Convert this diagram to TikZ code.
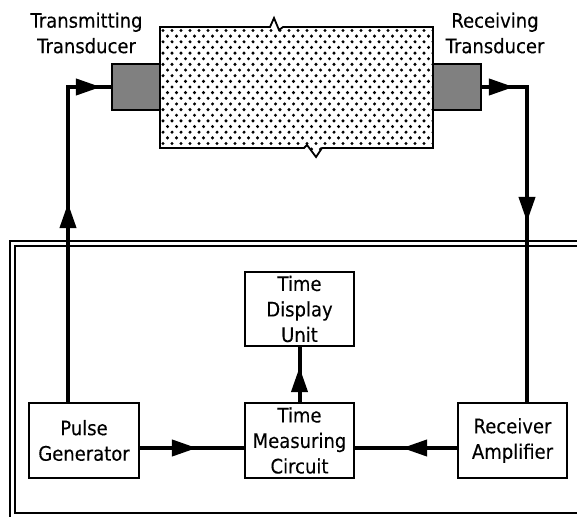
\documentclass[tikz,border=0pt]{standalone}
\usepackage{fontspec}
\setmainfont{DejaVu Sans}[FakeStretch=0.9,FakeBold=0.2]
\usetikzlibrary{arrows.meta,decorations.markings,calc}
\tikzset{
  box/.style={draw,line width=1.8pt,fill=white,inner sep=0pt,align=center,
    font=\fontsize{20}{25.5}\selectfont},
  lbl/.style={inner sep=0pt,align=center,font=\fontsize{20}{25.5}\selectfont},
  xducer/.style={draw,line width=1.8pt,fill={rgb,255:red,128;green,128;blue,128},
    minimum width=48pt,minimum height=46pt,inner sep=0pt},
  wire/.style={line width=4pt,line join=miter},
  frameline/.style={line width=1.6pt},
  tipat/.style={postaction={decorate},decoration={markings,
    mark=at position #1 with {\arrow{Triangle[length=25pt,width=16pt]}}}},
}
\begin{document}
\begin{tikzpicture}[x=1pt,y=-1pt]
\useasboundingbox (0,0) rectangle (577,516);
\begin{scope}
\clip (0,0) rectangle (577,516);
% frame
\draw[frameline] (580,241) -- (10,241) -- (10,530);
\draw[frameline] (580,246) -- (15,246) -- (15,513) -- (580,513);
\end{scope}
% specimen
\def\specpath{(160,27) -- (270,27) -- (274,18) -- (279,30) -- (283,27) -- (433,27) -- (433,148) -- (322,148) -- (316,157) -- (307,145) -- (304,148) -- (160,148) -- cycle}
\fill[white] \specpath;
\begin{scope}
\clip \specpath;
\foreach \j in {0,...,21}{
  \pgfmathsetmacro\yy{30.5+\j*5.65}
  \pgfmathsetmacro\xo{163+mod(\j,2)*4.5}
  \foreach \i in {0,...,30}{
    \fill (\xo+\i*9,\yy) circle[radius=1.7];
  }
}
\end{scope}
\draw[line width=1.8pt,line join=miter] \specpath;
% transducers
\node[xducer] (TT) at (136,87) {};
\node[xducer] (RT) at (457,87) {};
\node[lbl] (TTl) at (86.5,33) {Transmitting\\Transducer};
\node[lbl] (RTl) at (495,33) {Receiving\\Transducer};
% boxes
\node[box,minimum width=110pt,minimum height=75pt] (PG) at (84,440.5) {Pulse\\Generator};
\node[box,minimum width=109pt,minimum height=75pt] (TMC) at (299.5,440.5) {Time\\Measuring\\Circuit};
\node[box,minimum width=109pt,minimum height=74pt] (TDU) at (299.5,309) {Time\\Display\\Unit};
\node[box,minimum width=109pt,minimum height=75pt] (RA) at (512.5,440.5) {Receiver\\Amplifier};
% connectors
\draw[wire,decoration={markings,
  mark=at position 199pt with {\arrow{Triangle[length=25pt,width=16pt]}},
  mark=at position 348pt with {\arrow{Triangle[length=25pt,width=16pt]}}},postaction={decorate}]
  ([xshift=-16pt]PG.north) |- (TT.west);
\draw[wire,decoration={markings,
  mark=at position 32pt with {\arrow{Triangle[length=25pt,width=16pt]}},
  mark=at position 180pt with {\arrow{Triangle[length=25pt,width=16pt]}}},postaction={decorate}]
  (RT.east) -| ([xshift=14.5pt]RA.north);
\draw[wire,tipat=57pt] ([yshift=-7.5pt]PG.east) -- ([yshift=-7.5pt]TMC.west);
\draw[wire,tipat=55pt] ([yshift=-7.5pt]RA.west) -- ([yshift=-7.5pt]TMC.east);
\draw[wire,tipat=35pt] (TMC.north) -- (TDU.south);
\end{tikzpicture}
\end{document}
